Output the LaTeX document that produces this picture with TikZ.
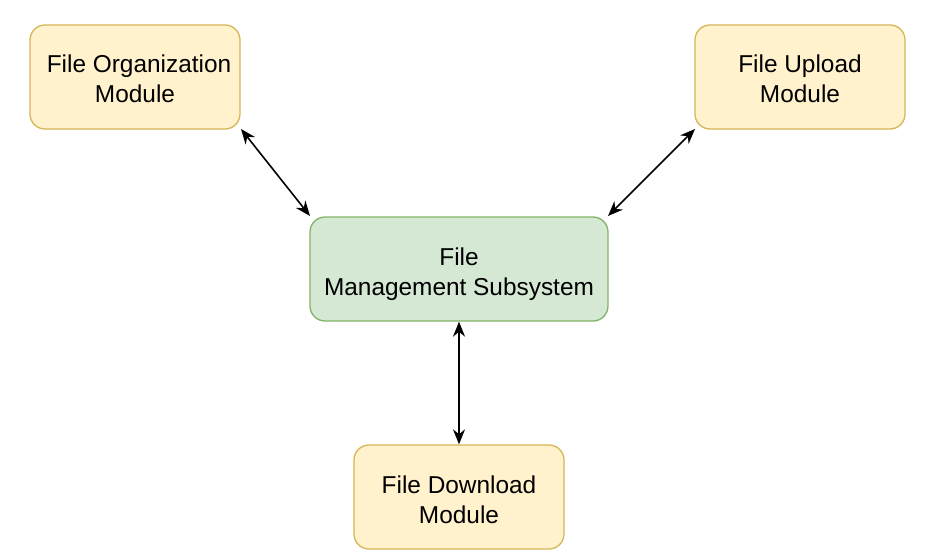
\documentclass[tikz,border=0pt]{standalone}
\usepackage{fontspec}
\setmainfont{Liberation Sans}
\usetikzlibrary{arrows.meta}
\definecolor{yfill}{HTML}{FFF2CC}
\definecolor{ydraw}{HTML}{D6B656}
\definecolor{gfill}{HTML}{D5E8D4}
\definecolor{gdraw}{HTML}{82B366}
\newcommand{\boxtext}[1]{\raisebox{-5pt}[\height][\depth]{\begin{tabular}{@{}c@{}}#1\end{tabular}}}
\begin{document}
\begin{tikzpicture}[x=1pt,y=-1pt,
  box/.style={rounded corners=15pt, line width=1.3pt, minimum width=210pt, minimum height=104pt, align=center, font=\fontsize{24.4}{30}\selectfont, inner sep=0pt},
  ybox/.style={box, fill=yfill, draw=ydraw},
  gbox/.style={box, fill=gfill, draw=gdraw, minimum width=298pt},
  conn/.style={line width=1.6pt, {Stealth[length=15pt,width=12pt]}-{Stealth[length=15pt,width=12pt]}}]
\useasboundingbox (0,0) rectangle (925,559);
\node[ybox] (org) at (135,77) {\boxtext{\hspace{8pt}File Organization\\Module}};
\node[ybox] (up) at (800,77) {\boxtext{File Upload\\Module}};
\node[gbox] (fm) at (459,269) {\boxtext{File\\Management Subsystem}};
\node[ybox] (dl) at (459,497) {\boxtext{File Download\\Module}};
\coordinate (a1) at (241,129);
\coordinate (a2) at (310,216);
\coordinate (b1) at (695,129);
\coordinate (b2) at (608,216);
\draw[conn] (a1) -- (a2);
\draw[conn] (b1) -- (b2);
\draw[conn] (fm.south) -- (dl.north);
\end{tikzpicture}
\end{document}
